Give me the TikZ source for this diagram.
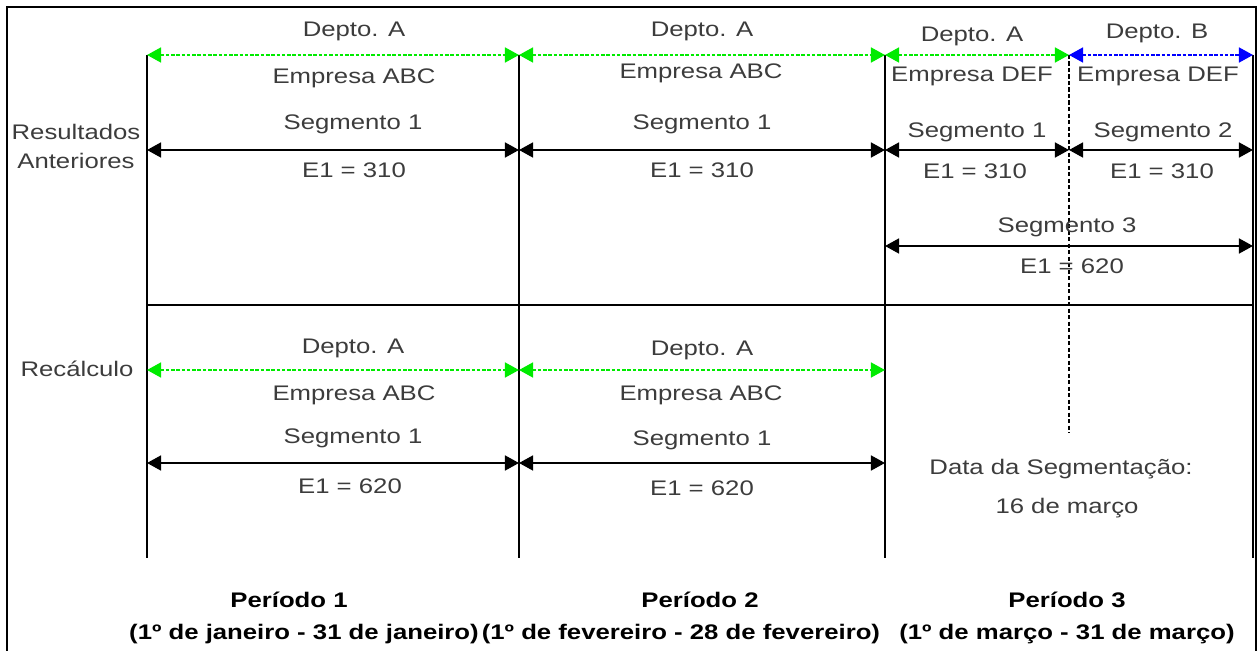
\documentclass[tikz,border=0pt]{standalone}
\usepackage{fontspec}
\setmainfont[FakeStretch=1.22]{Liberation Sans}
\usetikzlibrary{arrows.meta}
\definecolor{deptgreen}{RGB}{0,235,0}
\definecolor{deptblue}{RGB}{0,0,255}
\definecolor{textgray}{RGB}{60,60,60}

\begin{document}
\begin{tikzpicture}[x=0.02cm,y=-0.02cm,
  lbl/.style={font=\fontsize{12}{14}\selectfont, text=textgray, inner sep=0pt, text height=0.72em, text depth=0pt},
  perlbl/.style={font=\fontsize{12}{14}\selectfont\bfseries, inner sep=0pt, text height=0.72em, text depth=0pt},
  period/.style={line width=1.3pt},
  segarrow/.style={line width=1.1pt, {Triangle[length=8pt,width=8.5pt]}-{Triangle[length=8pt,width=8.5pt]}},
  deptarrow/.style={line width=1.1pt, dash pattern=on 2pt off 1pt, {Triangle[length=8pt,width=8.5pt]}-{Triangle[length=8pt,width=8.5pt]}}]

\useasboundingbox (0,0) rectangle (1259,651);

% Frame
\draw[line width=1.6pt] (7,651) -- (7,7) -- (1256,7) -- (1256,651);

% Period lines
\foreach \n/\x in {0/147,1/519,2/885,3/1253}{
  \coordinate (top\n) at (\x,55);
  \coordinate (seg\n) at (\x,150);
  \coordinate (tot\n) at (\x,246);
  \coordinate (sep\n) at (\x,305);
  \coordinate (rec\n) at (\x,370);
  \coordinate (recseg\n) at (\x,463);
  \coordinate (bot\n) at (\x,558);
  \draw[period] (top\n) -- (bot\n);
}
\draw[period] (sep0) -- (sep3);

% Segmentation date
\coordinate (cuttop) at (1069,55);
\coordinate (cutseg) at (1069,150);
\coordinate (cutbot) at (1069,433);
\draw[line width=1.1pt, dash pattern=on 2.5pt off 1.2pt] (cuttop) -- (cutbot);

% Row labels
\node[lbl] (resultados) at (76,133) {Resultados};
\node[lbl] (anteriores) at (76,162) {Anteriores};
\node[lbl] (recalculo) at (77,370) {Recálculo};

% Resultados anteriores
\draw[deptarrow, deptgreen] (top0) -- (top1);
\draw[deptarrow, deptgreen] (top1) -- (top2);
\draw[deptarrow, deptgreen] (top2) -- (cuttop);
\draw[deptarrow, deptblue] (cuttop) -- (top3);
\draw[segarrow] (seg0) -- (seg1);
\draw[segarrow] (seg1) -- (seg2);
\draw[segarrow] (seg2) -- (cutseg);
\draw[segarrow] (cutseg) -- (seg3);
\draw[segarrow] (tot2) -- (tot3);

\node[lbl] (depta1) at (354,30) {Depto. A};
\node[lbl] (depta2) at (702,30) {Depto. A};
\node[lbl] (depta3) at (972,35) {Depto. A};
\node[lbl] (deptb3) at (1157,32) {Depto. B};
\node[lbl] (emp1) at (354,77) {Empresa ABC};
\node[lbl] (emp2) at (701,72) {Empresa ABC};
\node[lbl] (emp3) at (972,75) {Empresa DEF};
\node[lbl] (emp4) at (1158,75) {Empresa DEF};
\node[lbl] (segm1) at (353,123) {Segmento 1};
\node[lbl] (segm2) at (702,123) {Segmento 1};
\node[lbl] (segm3) at (977,131) {Segmento 1};
\node[lbl] (segm4) at (1163,131) {Segmento 2};
\node[lbl] (val1) at (354,171) {E1 = 310};
\node[lbl] (val2) at (702,171) {E1 = 310};
\node[lbl] (val3) at (975,172) {E1 = 310};
\node[lbl] (val4) at (1162,172) {E1 = 310};
\node[lbl] (segm5) at (1067,226) {Segmento 3};
\node[lbl] (val5) at (1072,267) {E1 = 620};

% Recalculo
\draw[deptarrow, deptgreen] (rec0) -- (rec1);
\draw[deptarrow, deptgreen] (rec1) -- (rec2);
\draw[segarrow] (recseg0) -- (recseg1);
\draw[segarrow] (recseg1) -- (recseg2);

\node[lbl] (rdepta1) at (353,347) {Depto. A};
\node[lbl] (rdepta2) at (702,349) {Depto. A};
\node[lbl] (remp1) at (354,394) {Empresa ABC};
\node[lbl] (remp2) at (701,394) {Empresa ABC};
\node[lbl] (rsegm1) at (353,437) {Segmento 1};
\node[lbl] (rsegm2) at (702,439) {Segmento 1};
\node[lbl] (rval1) at (350,487) {E1 = 620};
\node[lbl] (rval2) at (702,489) {E1 = 620};

\node[lbl] (datasegm) at (1061,468) {Data da Segmentação:};
\node[lbl] (datadia) at (1067,507) {16 de março};

% Periods
\node[perlbl] (per1) at (289,601) {Período 1};
\node[perlbl] (per2) at (700,601) {Período 2};
\node[perlbl] (per3) at (1067,601) {Período 3};
\node[perlbl] (dias1) at (304,633) {(1º de janeiro - 31 de janeiro)};
\node[perlbl] (dias2) at (681,633) {(1º de fevereiro - 28 de fevereiro)};
\node[perlbl] (dias3) at (1067,633) {(1º de março - 31 de março)};

\end{tikzpicture}
\end{document}
